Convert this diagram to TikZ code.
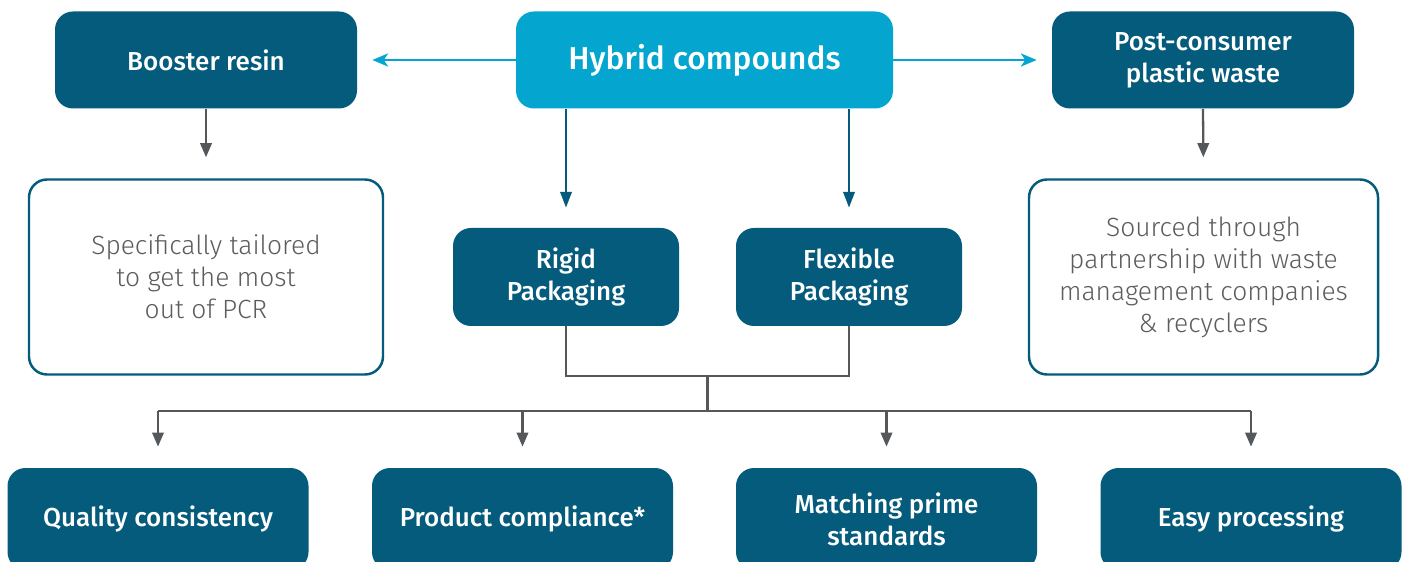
\documentclass[tikz,border=0pt]{standalone}
\usepackage{fontspec}
\setmainfont{Fira Sans}[BoldFont=* Medium]
\newfontfamily\lightfont{Fira Sans}[UprightFont=* Light]
\usetikzlibrary{arrows.meta,positioning,calc}
\definecolor{deepteal}{HTML}{045B7B}
\definecolor{skyblue}{HTML}{04A6CF}
\definecolor{steelgray}{HTML}{55585B}
\definecolor{textgray}{HTML}{5B5D60}

\tikzset{
  darkbox/.style={rectangle, rounded corners=0.36cm, fill=deepteal, text=white, align=center,
    font=\bfseries\fontsize{14.8}{18.2}\selectfont, minimum width=6.04cm, minimum height=1.94cm},
  hubbox/.style={darkbox, fill=skyblue, minimum width=7.54cm, font=\bfseries\fontsize{18}{22}\selectfont},
  packbox/.style={darkbox, minimum width=4.52cm, minimum height=1.96cm},
  resultbox/.style={darkbox, minimum width=6.02cm, minimum height=2.04cm},
  notebox/.style={rectangle, rounded corners=0.36cm, draw=deepteal, line width=1.4pt, fill=white,
    text=textgray, align=center, font=\lightfont\fontsize{15}{18.2}\selectfont,
    minimum width=7.0cm, minimum height=3.9cm},
  bluearrow/.style={-{Stealth[length=9pt, width=7.5pt, inset=2.5pt]}, skyblue, line width=1.1pt, shorten >=0.3cm},
  tealarrow/.style={-{Triangle[length=9pt, width=6.5pt]}, deepteal, line width=1.3pt, shorten >=0.4cm},
  grayline/.style={steelgray, line width=1.3pt},
  grayarrow/.style={grayline, -{Triangle[length=8pt, width=6.5pt]}, shorten >=0.42cm},
}

\begin{document}
\begin{tikzpicture}
\useasboundingbox (0,0) rectangle (28.18,-11.24);

% Top row
\node[hubbox] (hyb) at (14.09,-1.20) {Hybrid compounds};
\node[darkbox] (boost) at (4.12,-1.20) {Booster resin};
\node[darkbox] (pcw) at (24.06,-1.20) {Post-consumer\\plastic waste};

% Notes under the side boxes
\node[notebox, minimum width=7.08cm] (boostnote) at (4.12,-5.54) {Specifically tailored\\to get the most\\out of PCR};
\node[notebox, minimum width=6.98cm] (pcwnote) at (24.07,-5.54) {Sourced through\\partnership with waste\\management companies\\\& recyclers};

% Packaging types
\node[packbox] (rigid) at (11.32,-5.54) {Rigid\\Packaging};
\node[packbox] (flex) at (16.98,-5.54) {Flexible\\Packaging};

% Benefits
\node[resultbox] (q1) at (3.16,-10.38) {Quality consistency};
\node[resultbox] (q2) at (10.45,-10.38) {Product compliance*};
\node[resultbox] (q3) at (17.73,-10.38) {Matching prime\\standards};
\node[resultbox] (q4) at (25.02,-10.38) {Easy processing};

% Arrows out of the hub
\draw[bluearrow] (hyb.west) -- (boost.east);
\draw[bluearrow] (hyb.east) -- (pcw.west);
\draw[tealarrow] (hyb.south -| rigid.north) -- (rigid.north);
\draw[tealarrow] (hyb.south -| flex.north) -- (flex.north);

% Side boxes to their notes
\draw[grayarrow] (boost.south) -- (boostnote.north);
\draw[grayarrow] (pcw.south) -- (pcwnote.north);

% Merge and fan out to the benefits
\coordinate (merge) at ($(rigid.south)!0.5!(flex.south) + (0,-1.0)$);
\coordinate (bus) at ($(merge) + (0,-0.70)$);
\draw[grayline] (rigid.south) -- ++(0,-1.0) -| (flex.south);
\draw[grayline] (merge) -- (bus);
\draw[grayline] (q1.north |- bus) -- (q4.north |- bus);
\foreach \n in {q1,q2,q3,q4} {
  \draw[grayarrow] (\n.north |- bus) -- (\n.north);
}

\end{tikzpicture}
\end{document}
